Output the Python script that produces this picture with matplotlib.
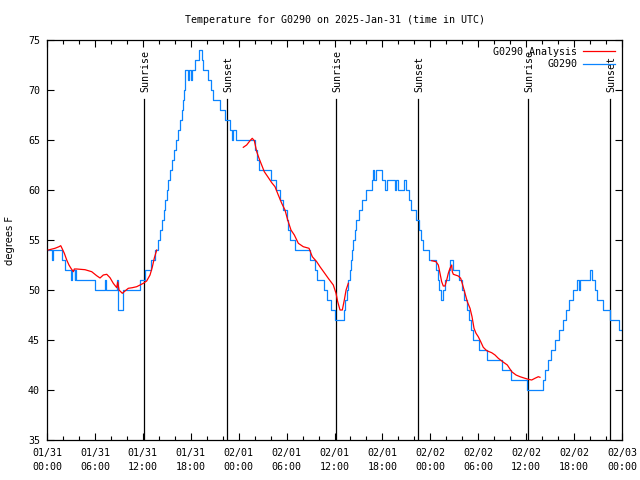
import numpy as np
import matplotlib
matplotlib.use("Agg")
import matplotlib.pyplot as plt
from matplotlib.ticker import MultipleLocator

plt.rcParams['font.family'] = ['DejaVu Sans Mono']

# ---- data (hours since 2025-01-31 00:00 UTC) ----
obs_hours = [0.15, 0.6, 0.72, 1.84, 2.25, 3.0, 3.15, 3.45, 3.55, 3.65, 6.0, 7.26, 7.4, 8.8, 8.9, 9.5,
             11.65, 12.27, 13.0, 13.5, 13.9, 14.15, 14.4, 14.6, 14.8, 15.0, 15.2, 15.45, 15.7, 15.9,
             16.1, 16.35, 16.6, 16.85, 17.05, 17.15, 17.22, 17.3, 17.7, 17.82, 17.99, 18.1, 18.53,
             19.07, 19.45, 19.55, 20.2, 20.5, 20.83, 21.66, 22.35, 22.9, 23.15, 23.3, 23.65, 26.0,
             26.3, 26.6, 28.1, 28.7, 29.2, 29.6, 30.0, 30.2, 30.45, 31.0, 32.9, 33.5, 33.8, 34.7,
             35.1, 35.6, 36.0, 37.15, 37.35, 37.55, 37.75, 37.9, 38.05, 38.2, 38.35, 38.55, 38.75,
             39.1, 39.45, 40.0, 40.73, 40.86, 41.0, 41.15, 41.9, 42.3, 42.6, 43.55, 43.75, 43.95,
             44.75, 44.95, 45.3, 45.6, 46.2, 46.55, 46.85, 47.1, 47.8, 48.7, 48.95, 49.05, 49.3,
             49.6, 49.8, 50.3, 50.5, 50.88, 51.6, 51.95, 52.2, 52.55, 52.8, 53.05, 53.35, 54.1,
             55.1, 57.0, 58.1, 60.1, 62.07, 62.3, 62.7, 63.1, 63.6, 64.1, 64.6, 65.0, 65.4, 65.9,
             66.4, 66.6, 66.75, 67.95, 68.25, 68.6, 68.85, 69.6, 70.55, 71.6, 72.0]
obs_temps = [54, 53, 54, 53, 52, 51, 52, 51, 52, 51, 50, 51, 50, 51, 48, 50,
             51, 52, 53, 54, 55, 56, 57, 58, 59, 60, 61, 62, 63, 64,
             65, 66, 67, 68, 69, 70, 71, 72, 71, 72, 71, 72, 73,
             74, 73, 72, 71, 70, 69, 68, 67, 66, 65, 66, 65, 64,
             63, 62, 61, 60, 59, 58, 57, 56, 55, 54, 53, 52, 51, 50,
             49, 48, 47, 48, 49, 50, 51, 52, 53, 54, 55, 56, 57,
             58, 59, 60, 61, 62, 61, 62, 61, 60, 61, 60, 61, 60,
             61, 60, 59, 58, 57, 56, 55, 54, 53, 52, 51, 50, 49,
             50, 51, 52, 53, 52, 51, 50, 49, 48, 47, 46, 45, 44,
             43, 42, 41, 40, 41, 42, 43, 44, 45, 46, 47, 48, 49, 50,
             51, 50, 51, 52, 51, 50, 49, 48, 47, 46, 46]

ana1_hours = [0.16, 1.0, 1.5, 1.72, 1.92, 2.17, 2.47, 2.75, 3.0, 3.3, 3.42, 3.72, 4.76, 5.6, 6.22,
              6.64, 7.05, 7.48, 7.89, 8.3, 8.73, 8.85, 9.02, 9.43, 9.77, 10.18, 10.68, 11.23,
              11.65, 12.06, 12.48, 12.9, 13.19, 13.44, 13.74]
ana1_temps = [54.0, 54.17, 54.33, 54.43, 54.1, 53.67, 53.0, 52.5, 52.17, 51.83, 52.1, 52.1, 52.03,
              51.83, 51.43, 51.2, 51.5, 51.57, 51.23, 50.67, 50.23, 50.8, 50.0, 49.67, 49.9, 50.17,
              50.23, 50.33, 50.5, 50.67, 50.9, 51.5, 52.3, 53.2, 54.0]
ana2_hours = [24.58, 25.0, 25.42, 25.7, 25.96, 26.26, 26.55, 26.88, 27.21, 27.64, 28.14, 28.55,
              28.96, 29.39, 29.8, 30.14, 30.55, 30.97, 31.47, 32.09, 32.81, 33.22, 33.77, 34.18,
              34.72, 35.22, 35.85, 36.19, 36.4, 36.69, 36.98, 37.23, 37.45, 37.73]
ana2_temps = [64.27, 64.5, 64.93, 65.17, 64.93, 63.83, 63.17, 62.5, 61.83, 61.33, 60.73, 60.33,
              59.5, 58.67, 58.0, 57.0, 56.0, 55.5, 54.67, 54.33, 54.17, 53.33, 52.83, 52.33,
              51.73, 51.17, 50.5, 49.67, 48.83, 48.0, 48.0, 49.0, 50.0, 50.67]
ana3_hours = [48.17, 48.71, 49.0, 49.21, 49.42, 49.62, 49.84, 50.05, 50.25, 50.46, 50.68, 50.75,
              50.88, 51.5, 51.8, 52.05, 52.34, 52.63, 52.97, 53.22, 53.47, 53.72, 54.0, 54.31,
              54.63, 55.06, 55.68, 56.1, 56.51, 57.06, 57.64, 58.19, 58.73, 59.23, 59.85, 60.27,
              60.69, 61.1, 61.52, 61.73]
ana3_temps = [52.93, 52.83, 52.5, 51.67, 50.83, 50.4, 50.4, 51.0, 51.67, 52.17, 52.5, 51.83,
              51.57, 51.4, 51.17, 50.5, 49.67, 48.83, 48.17, 47.33, 46.17, 45.67, 45.33, 44.83,
              44.27, 43.93, 43.73, 43.5, 43.17, 42.83, 42.5, 41.83, 41.5, 41.33, 41.17, 41.07,
              41.0, 41.17, 41.33, 41.27]

sun_hours = [12.19, 22.58, 36.19, 46.5, 60.27, 70.54]
sun_labels = ['Sunrise', 'Sunset', 'Sunrise', 'Sunset', 'Sunrise', 'Sunset']

tick_hours = list(range(0, 73, 6))
tick_labels = ['01/31\n00:00', '01/31\n06:00', '01/31\n12:00', '01/31\n18:00',
               '02/01\n00:00', '02/01\n06:00', '02/01\n12:00', '02/01\n18:00',
               '02/02\n00:00', '02/02\n06:00', '02/02\n12:00', '02/02\n18:00',
               '02/03\n00:00']
y_ticks = [35, 40, 45, 50, 55, 60, 65, 70, 75]

FS = 7.2
fig = plt.figure(figsize=(6.4, 4.8), dpi=100)
ax = fig.add_axes([47/640, 1-440/480, 575/640, 400/480])

red_h = ana1_hours + [np.nan] + ana2_hours + [np.nan] + ana3_hours
red_t = ana1_temps + [np.nan] + ana2_temps + [np.nan] + ana3_temps

ax.plot(red_h, red_t, color='#ff0000', lw=0.9, label='G0290 Analysis', zorder=3)
ax.plot(obs_hours, obs_temps, color='#0a84ff', lw=0.9, drawstyle='steps-post', label='G0290', zorder=2)

for h, lab in zip(sun_hours, sun_labels):
    ax.plot([h, h], [35, 69.1], color='black', lw=0.9, zorder=1)
    ax.text(h + 0.15, 69.8, lab, rotation=90, ha='center', va='bottom', fontsize=FS)

ax.set_xlim(0, 72)
ax.set_ylim(35, 75)
ax.set_xticks(tick_hours)
ax.set_xticklabels(tick_labels, fontsize=FS, linespacing=1.5)
ax.xaxis.set_minor_locator(MultipleLocator(2))
ax.set_yticks(y_ticks)
ax.set_yticklabels([str(v) for v in y_ticks], fontsize=FS)
ax.tick_params(which='both', direction='in', top=True, right=True, width=0.8)
ax.tick_params(which='major', length=5)
ax.tick_params(which='minor', length=3)
ax.tick_params(axis='x', pad=6)
ax.tick_params(axis='y', pad=5)
for s in ax.spines.values():
    s.set_linewidth(0.9)

leg = ax.legend(loc='upper right', frameon=False, markerfirst=False, fontsize=FS,
                handlelength=3.2, borderaxespad=0.3, labelspacing=0.25, handletextpad=0.6)

fig.text(335/640, 1-20/480, 'Temperature for G0290 on 2025-Jan-31 (time in UTC)',
         ha='center', va='center', fontsize=FS)
fig.text(10/640, 0.5, 'degrees F', rotation=90, ha='center', va='center', fontsize=FS,
         family='DejaVu Sans')

fig.savefig('out.png', dpi=100)
